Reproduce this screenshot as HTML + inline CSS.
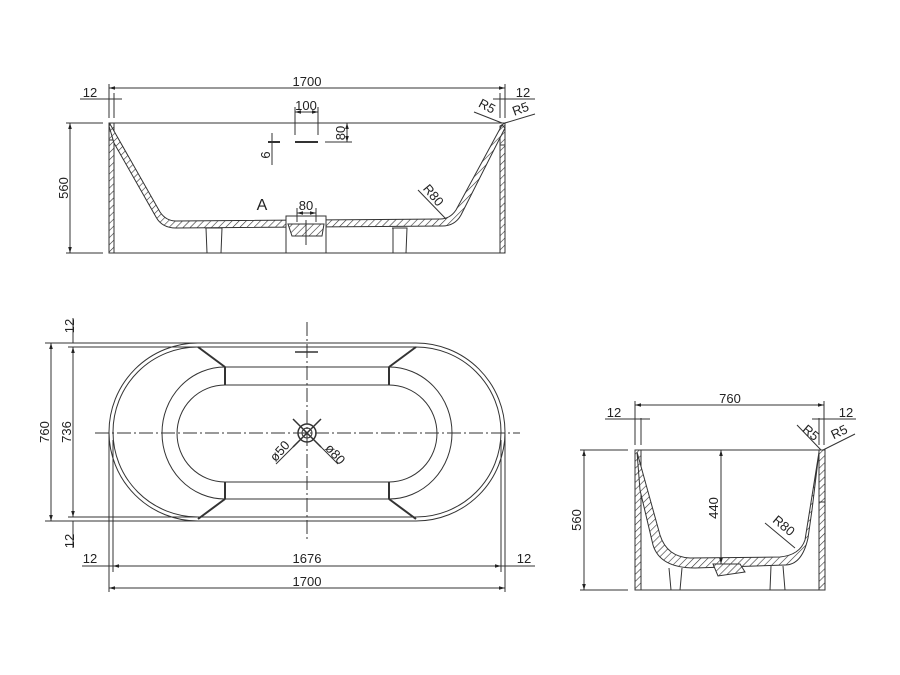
<!DOCTYPE html>
<html><head><meta charset="utf-8"><style>
html,body{margin:0;padding:0;background:#fff;}
svg{display:block}
text{font-family:"Liberation Sans",sans-serif;font-size:13px;fill:#222}
</style></head><body>
<svg width="900" height="675" viewBox="0 0 900 675" xmlns="http://www.w3.org/2000/svg">
<defs>
<pattern id="h" width="5" height="5" patternUnits="userSpaceOnUse" patternTransform="rotate(45)">
<rect width="5" height="5" fill="#fff"/><line x1="0" y1="0" x2="0" y2="5" stroke="#333" stroke-width="1.2"/>
</pattern>
<marker id="a" viewBox="0 0 10 10" refX="10" refY="5" markerWidth="6" markerHeight="6" orient="auto-start-reverse"><path d="M0,2 L10,5 L0,8z" fill="#222"/></marker>
</defs>
<g stroke="#333" stroke-width="1" fill="none">
<line x1="109" y1="123" x2="505" y2="123"/>
<line x1="109" y1="253" x2="505" y2="253"/>
<rect x="109" y="140" width="5" height="113" fill="url(#h)"/>
<rect x="500" y="145" width="5" height="108" fill="url(#h)"/>
<path d="M109,123 L114,123 L114,140 L109,140z" fill="url(#h)"/>
<path d="M500,126 L505,123 L505,145 L500,145z" fill="url(#h)"/>
<path d="M110,124 L160,212 Q166,221 176,221 L440,219 Q450,219 456,210 L502,125 L505,128 L461,215 Q455,226 442,226 L176,228 Q162,228 156,217 L114,143 L109,126z" fill="url(#h)"/>
<path d="M205,228 L222,228 L221,253 M206,228 L207,253 M392,228 L407,228 L406,253 M393,228 L393,253"/>
<rect x="286" y="216" width="40" height="37" fill="#fff"/>
<path d="M288,224 L324,224 L322,236 L292,236z" fill="url(#h)"/>
<line x1="306" y1="220" x2="306" y2="245"/>
<line x1="109" y1="88" x2="505" y2="88" marker-start="url(#a)" marker-end="url(#a)"/>
<line x1="109" y1="84" x2="109" y2="118"/><line x1="505" y1="84" x2="505" y2="118"/>
<line x1="114" y1="93" x2="114" y2="118"/><line x1="500" y1="93" x2="500" y2="118"/>
<line x1="80" y1="99" x2="122" y2="99"/><line x1="493" y1="99" x2="535" y2="99"/>
<line x1="66" y1="123" x2="103" y2="123"/><line x1="66" y1="253" x2="103" y2="253"/>
<line x1="70" y1="123" x2="70" y2="253" marker-start="url(#a)" marker-end="url(#a)"/>
<line x1="295" y1="112" x2="318" y2="112" marker-start="url(#a)" marker-end="url(#a)"/>
<line x1="295" y1="107" x2="295" y2="135"/><line x1="318" y1="107" x2="318" y2="135"/>
<line x1="347" y1="123" x2="347" y2="142" marker-start="url(#a)" marker-end="url(#a)"/>
<line x1="325" y1="142" x2="352" y2="142"/>
<line x1="268" y1="142" x2="280" y2="142" stroke-width="2"/><line x1="295" y1="142" x2="318" y2="142" stroke-width="2"/>
<line x1="272" y1="133" x2="272" y2="165"/>
<line x1="297" y1="213" x2="316" y2="213" marker-start="url(#a)" marker-end="url(#a)"/>
<line x1="297" y1="208" x2="297" y2="222"/><line x1="316" y1="208" x2="316" y2="222"/>
<line x1="418" y1="190" x2="446" y2="219"/>
<line x1="474" y1="112" x2="502" y2="123"/><line x1="505" y1="123" x2="535" y2="114"/>
<path d="M198,343 L416,343 A89,89 0 0 1 416,521 L198,521 A89,89 0 0 1 198,343z"/>
<path d="M198,347 L416,347 A85,85 0 0 1 416,517 L198,517 A85,85 0 0 1 198,347z"/>
<path d="M225,367 L389,367 A63,66 0 0 1 389,499 L225,499 A63,66 0 0 1 225,367z"/>
<path d="M225,385 L389,385 A48,48.5 0 0 1 389,482 L225,482 A48,48.5 0 0 1 225,385z"/>
<g stroke-width="2"><line x1="225" y1="367" x2="225" y2="385"/><line x1="389" y1="367" x2="389" y2="385"/>
<line x1="225" y1="482" x2="225" y2="499"/><line x1="389" y1="482" x2="389" y2="499"/>
<line x1="225" y1="367" x2="198" y2="347"/><line x1="389" y1="367" x2="416" y2="347"/>
<line x1="225" y1="499" x2="198" y2="519"/><line x1="389" y1="499" x2="416" y2="519"/></g>
<line x1="95" y1="433" x2="520" y2="433" stroke-dasharray="14,3,2,3"/>
<line x1="307" y1="322" x2="307" y2="542" stroke-dasharray="14,3,2,3"/>
<line x1="295" y1="352" x2="318" y2="352" stroke-width="1.5"/>
<circle cx="307" cy="433" r="9" stroke-width="1.5"/><circle cx="307" cy="433" r="5"/>
<line x1="293" y1="419" x2="321" y2="447" stroke-width="1.5"/><line x1="321" y1="419" x2="293" y2="447" stroke-width="1.5"/>
<line x1="298" y1="442" x2="276" y2="464"/><line x1="316" y1="442" x2="338" y2="464"/>
<line x1="45" y1="343" x2="198" y2="343"/><line x1="68" y1="347" x2="198" y2="347"/>
<line x1="45" y1="521" x2="198" y2="521"/><line x1="68" y1="517" x2="198" y2="517"/>
<line x1="51" y1="343" x2="51" y2="521" marker-start="url(#a)" marker-end="url(#a)"/>
<line x1="73" y1="347" x2="73" y2="517" marker-start="url(#a)" marker-end="url(#a)"/>
<line x1="73" y1="318" x2="73" y2="343"/><line x1="73" y1="521" x2="73" y2="548"/>
<line x1="109" y1="433" x2="109" y2="592"/><line x1="113" y1="440" x2="113" y2="572"/>
<line x1="505" y1="433" x2="505" y2="592"/><line x1="501" y1="440" x2="501" y2="572"/>
<line x1="82" y1="566" x2="535" y2="566"/>
<line x1="113" y1="566" x2="501" y2="566" marker-start="url(#a)" marker-end="url(#a)"/>
<line x1="109" y1="588" x2="505" y2="588" marker-start="url(#a)" marker-end="url(#a)"/>
<line x1="635" y1="450" x2="825" y2="450"/>
<line x1="635" y1="590" x2="825" y2="590"/>
<path d="M635,450 L641,450 L641,590 L635,590z" fill="url(#h)"/>
<path d="M819,502 L825,502 L825,590 L819,590z" fill="url(#h)"/>
<path d="M819,450 L825,450 L825,502 L819,502 L819,482z" fill="url(#h)"/>
<path d="M637,452 L660,535 Q667,557 690,558 L780,557 Q800,555 805,540 L819,452 L812,510 L808,538 Q802,565 785,565 L695,568 Q660,568 653,545 L640,490z" fill="url(#h)"/>
<path d="M713,564 L740,564 L745,572 L718,576z" fill="url(#h)"/>
<path d="M669,568 L671,590 M682,568 L680,590 M771,566 L770,590 M783,566 L785,590"/>
<line x1="635" y1="401" x2="635" y2="445"/><line x1="824" y1="401" x2="824" y2="445"/>
<line x1="641" y1="418" x2="641" y2="445"/><line x1="819" y1="418" x2="819" y2="445"/>
<line x1="635" y1="405" x2="824" y2="405" marker-start="url(#a)" marker-end="url(#a)"/>
<line x1="605" y1="419" x2="650" y2="419"/><line x1="812" y1="419" x2="856" y2="419"/>
<line x1="580" y1="450" x2="628" y2="450"/><line x1="580" y1="590" x2="628" y2="590"/>
<line x1="584" y1="450" x2="584" y2="590" marker-start="url(#a)" marker-end="url(#a)"/>
<line x1="721" y1="450" x2="721" y2="564" marker-start="url(#a)" marker-end="url(#a)"/>
<line x1="797" y1="425" x2="821" y2="450"/><line x1="823" y1="450" x2="855" y2="434"/>
<line x1="765" y1="523" x2="795" y2="548"/>
</g>
<g>
<text x="307" y="86" text-anchor="middle">1700</text>
<text x="90" y="97" text-anchor="middle">12</text>
<text x="523" y="97" text-anchor="middle">12</text>
<text x="306" y="110" text-anchor="middle">100</text>
<text transform="translate(345,133) rotate(-90)" text-anchor="middle">80</text>
<text transform="translate(270,155) rotate(-90)" text-anchor="middle">6</text>
<text transform="translate(68,188) rotate(-90)" text-anchor="middle">560</text>
<text x="262" y="210" text-anchor="middle" style="font-size:16px">A</text>
<text x="306" y="210" text-anchor="middle">80</text>
<text transform="translate(430,198) rotate(50)" text-anchor="middle">R80</text>
<text transform="translate(485,110) rotate(28)" text-anchor="middle">R5</text>
<text transform="translate(522,113) rotate(-20)" text-anchor="middle">R5</text>
<text transform="translate(74,326) rotate(-90)" text-anchor="middle">12</text>
<text transform="translate(74,541) rotate(-90)" text-anchor="middle">12</text>
<text transform="translate(49,432) rotate(-90)" text-anchor="middle">760</text>
<text transform="translate(71,432) rotate(-90)" text-anchor="middle">736</text>
<text transform="translate(283,454) rotate(-48)" text-anchor="middle">ø50</text>
<text transform="translate(332,457) rotate(48)" text-anchor="middle">ø80</text>
<text x="90" y="563" text-anchor="middle">12</text>
<text x="307" y="563" text-anchor="middle">1676</text>
<text x="524" y="563" text-anchor="middle">12</text>
<text x="307" y="586" text-anchor="middle">1700</text>
<text x="730" y="403" text-anchor="middle">760</text>
<text x="614" y="417" text-anchor="middle">12</text>
<text x="846" y="417" text-anchor="middle">12</text>
<text transform="translate(808,436) rotate(40)" text-anchor="middle">R5</text>
<text transform="translate(841,436) rotate(-25)" text-anchor="middle">R5</text>
<text transform="translate(581,520) rotate(-90)" text-anchor="middle">560</text>
<text transform="translate(718,508) rotate(-90)" text-anchor="middle">440</text>
<text transform="translate(781,529) rotate(40)" text-anchor="middle">R80</text>
</g>
</svg>
</body></html>
